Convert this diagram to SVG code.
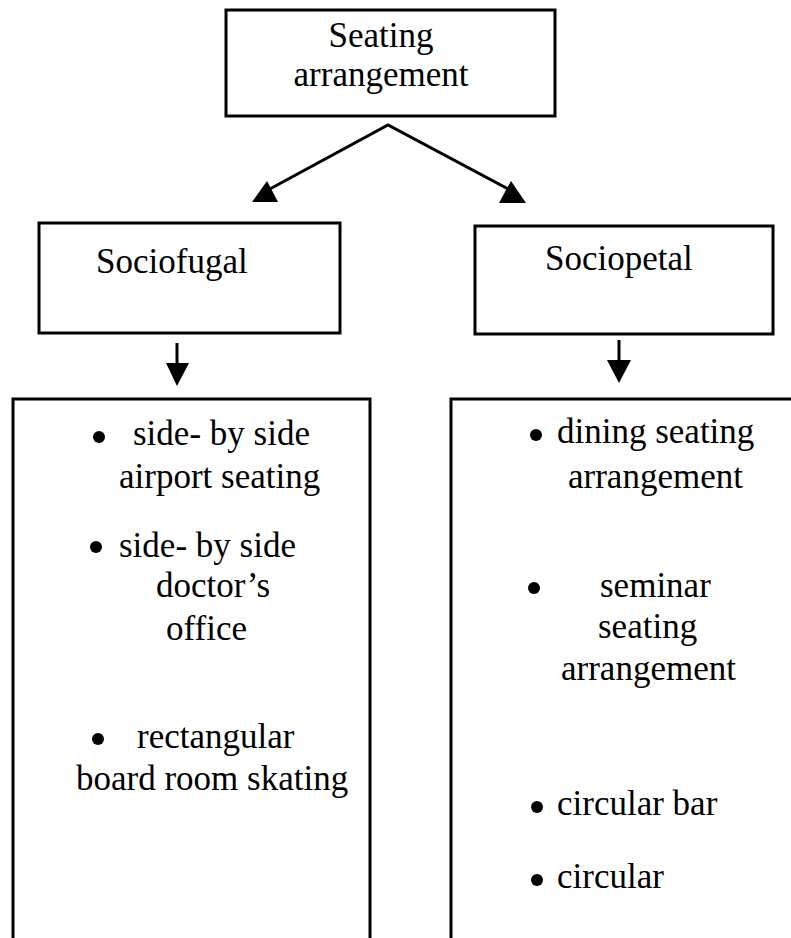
<svg xmlns="http://www.w3.org/2000/svg" width="791" height="938" viewBox="0 0 791 938">
<style>
.box{fill:#fff;stroke:#000;stroke-width:3}
.open{fill:none;stroke:#000;stroke-width:3}
text{font-family:'Liberation Serif','Times New Roman',serif;font-size:35px;fill:#000}
.c{text-anchor:middle}
.ln{stroke:#000;stroke-width:3;fill:none}
.hd{fill:#000;stroke:none}
.dot{fill:#000}
</style>
<rect width="791" height="938" fill="#fff"/>
<g id="connectors">
<polyline class="ln" points="268,190 388,125 510,190"/>
<polygon class="hd" points="252,202 278,202 267,181"/>
<polygon class="hd" points="499,203 526,203 511,181"/>
<line class="ln" x1="177" y1="343" x2="177" y2="365"/>
<polygon class="hd" points="166,363 189,363 177,386"/>
<line class="ln" x1="619" y1="340" x2="619" y2="362"/>
<polygon class="hd" points="607,360 631,360 619,383"/>
</g>
<g font-family="Liberation Serif, serif" font-size="35">
<g id="seating-arrangement">
<rect class="box" x="226" y="10" width="329" height="106"/>
<text class="c" x="381" y="47">Seating</text>
<text class="c" x="381" y="86">arrangement</text>
</g>
<g id="sociofugal">
<rect class="box" x="39" y="223" width="301" height="110"/>
<text x="96" y="273">Sociofugal</text>
</g>
<g id="sociopetal">
<rect class="box" x="475" y="226" width="298" height="108"/>
<text x="545" y="270">Sociopetal</text>
</g>
<g id="sociofugal-examples">
<path class="open" d="M13,938 V399 H370 V938"/>
<circle class="dot" cx="99" cy="437" r="6"/>
<text x="133" y="445">side- by side</text>
<text x="119" y="488">airport seating</text>
<circle class="dot" cx="96" cy="547" r="6"/>
<text x="119" y="557">side- by side</text>
<text x="156" y="597">doctor’s</text>
<text x="166" y="640">office</text>
<circle class="dot" cx="98" cy="739" r="6"/>
<text x="137" y="748">rectangular</text>
<text x="76" y="790">board room skating</text>
</g>
<g id="sociopetal-examples">
<path class="open" d="M451,938 V399 H791"/>
<circle class="dot" cx="536" cy="435" r="6"/>
<text x="557" y="443">dining seating</text>
<text x="568" y="488">arrangement</text>
<circle class="dot" cx="534" cy="588" r="6"/>
<text x="600" y="597">seminar</text>
<text x="598" y="638">seating</text>
<text x="561" y="680">arrangement</text>
<circle class="dot" cx="537" cy="807" r="6"/>
<text x="557" y="815">circular bar</text>
<circle class="dot" cx="537" cy="880" r="6"/>
<text x="557" y="888">circular</text>
</g>
</g>
</svg>
